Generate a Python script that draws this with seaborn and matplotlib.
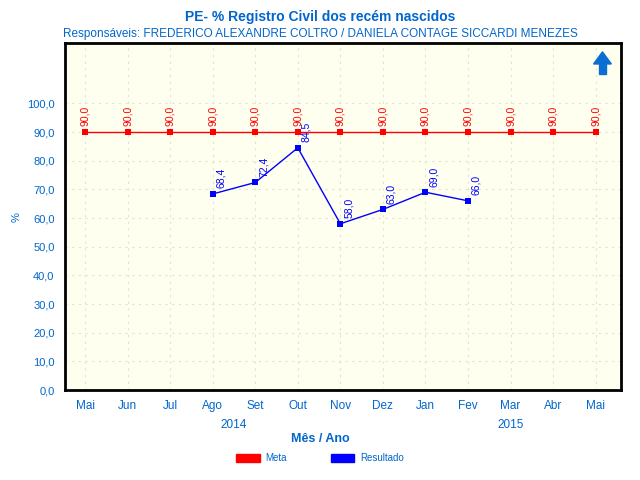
import numpy as np
import pandas as pd
import seaborn as sns
import matplotlib.pyplot as plt
from matplotlib.patches import Patch, FancyArrow

meses = ['Mai', 'Jun', 'Jul', 'Ago', 'Set', 'Out', 'Nov', 'Dez', 'Jan', 'Fev', 'Mar', 'Abr', 'Mai']
meta = [90.0] * 13
resultado = [np.nan, np.nan, np.nan, 68.4, 72.4, 84.5, 58.0, 63.0, 69.0, 66.0, np.nan, np.nan, np.nan]

azul = '#0066CC'

sns.set_style('white')
plt.rcParams['font.family'] = ['Liberation Sans', 'DejaVu Sans']

df = pd.DataFrame({'pos': range(len(meses)), 'Meta': meta, 'Resultado': resultado})

fig = plt.figure(figsize=(6.4, 4.8), dpi=100)
ax = fig.add_axes([0.1016, 0.1875, 0.8684, 0.7225])
ax.set_facecolor('#FFFFF0')

sns.lineplot(data=df, x='pos', y='Meta', color='red', marker='s', markersize=4,
             markeredgewidth=0, linewidth=1, ax=ax)
res = df.dropna()
sns.lineplot(data=res, x='pos', y='Resultado', color='blue', marker='s', markersize=4,
             markeredgewidth=0, linewidth=1, ax=ax)

for x, v in zip(df['pos'], df['Meta']):
    ax.text(x, v + 2, f'{v:.1f}'.replace('.', ','), rotation=90, ha='center', va='bottom',
            fontsize=7.5, color='red')
for x, v in zip(res['pos'], res['Resultado']):
    ax.text(x + 0.08, v + 2, f'{v:.1f}'.replace('.', ','), rotation=90, ha='left', va='bottom',
            fontsize=7.5, color='blue')

ax.set_xlim(-0.47, 12.59)
ax.set_ylim(0, 121)
ax.set_yticks(np.arange(0, 101, 10))
ax.set_yticklabels([f'{v:.1f}'.replace('.', ',') for v in np.arange(0, 101, 10)])
ax.set_xticks(range(len(meses)))
ax.set_xticklabels(meses)
ax.tick_params(axis='y', colors='#888888', labelcolor=azul, labelsize=8, length=4, width=0.8)
ax.tick_params(axis='x', colors='#888888', labelcolor=azul, labelsize=8.5, length=4, width=0.8)
ax.grid(True, color='#E2E2D2', linestyle=(0, (2, 4)), linewidth=0.8)
for s in ax.spines.values():
    s.set_color('black')
    s.set_linewidth(2)

ax.set_xlabel('')
ax.set_ylabel('%', color=azul, fontsize=8)
ax.text(3.5, -0.085, '2014', transform=ax.get_xaxis_transform(), ha='center', va='top',
        color=azul, fontsize=8.5)
ax.text(10, -0.085, '2015', transform=ax.get_xaxis_transform(), ha='center', va='top',
        color=azul, fontsize=8.5)

fig.text(0.5, 0.085, 'Mês / Ano', ha='center', va='center', color=azul, fontsize=9, fontweight='bold')
fig.text(0.5, 0.965, 'PE- % Registro Civil dos recém nascidos', ha='center', va='center',
         color=azul, fontsize=10, fontweight='bold')
fig.text(0.5, 0.93, 'Responsáveis: FREDERICO ALEXANDRE COLTRO / DANIELA CONTAGE SICCARDI MENEZES',
         ha='center', va='center', color=azul, fontsize=8.5)

arrow = FancyArrow(0.967, 0.94, 0, 0.0001, width=0.012, head_width=0.032, head_length=0.035,
                   length_includes_head=False, transform=ax.transAxes, color='#0A6FD0')
ax.add_patch(arrow)
ax.add_patch(plt.Rectangle((0.961, 0.94), 0.013, -0.03, transform=ax.transAxes, color='#0A6FD0'))

handles = [Patch(color='red', label='Meta'), Patch(color='blue', label='Resultado')]
leg = fig.legend(handles=handles, loc='center', bbox_to_anchor=(0.5, 0.045), ncol=2, frameon=False,
                 fontsize=7, handlelength=2.4, handleheight=0.8, handletextpad=0.6, columnspacing=4.5)
for t in leg.get_texts():
    t.set_color(azul)

fig.savefig('out.png', dpi=100)
